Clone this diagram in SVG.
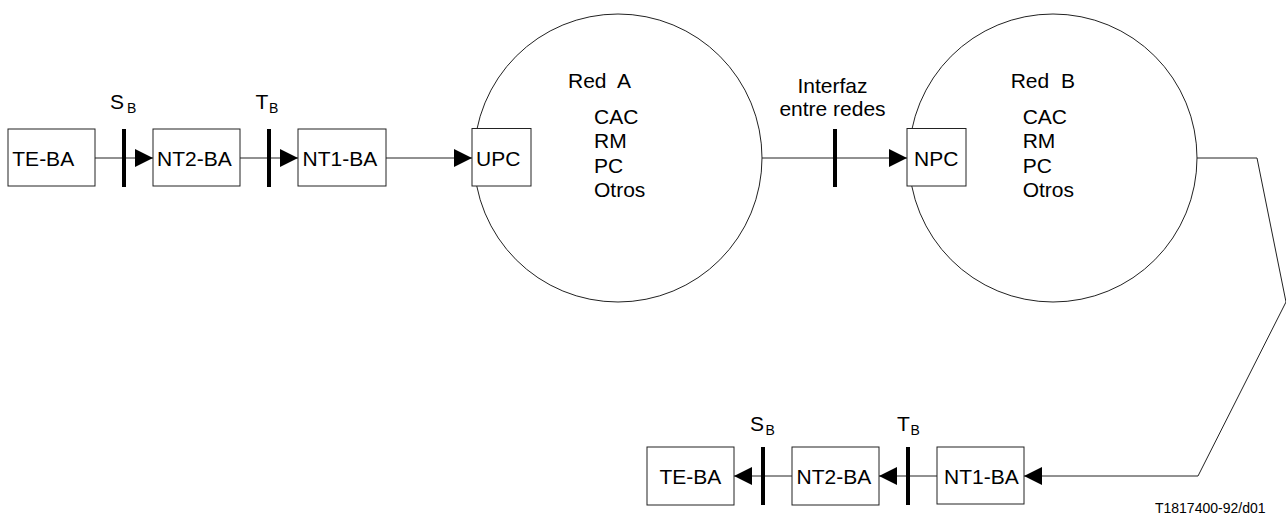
<svg xmlns="http://www.w3.org/2000/svg" width="1286" height="515" viewBox="0 0 1286 515">
<defs>
<style>
text{font-family:"Liberation Sans",Arial,sans-serif;fill:#000}
.lbl{font-size:21px}
.sub{font-size:14px}
.box{fill:#fff;stroke:#222;stroke-width:1}
.net{fill:#fff;stroke:#222;stroke-width:1}
.wire{fill:none;stroke:#222;stroke-width:1}
.bar{stroke:#000;stroke-width:4}
.ref{font-size:14px}
</style>
<marker id="ah" viewBox="0 0 18 18" refX="18" refY="9" markerWidth="18" markerHeight="18" markerUnits="userSpaceOnUse" orient="auto">
<path d="M0,0 L18,9 L0,18 Z" fill="#000"/>
</marker>
</defs>
<rect width="1286" height="515" fill="#fff"/>

<g id="redA">
<circle class="net" cx="618" cy="158" r="144"/>
<text class="lbl" x="568" y="88" xml:space="preserve">Red  A</text>
<text class="lbl" x="594" y="124">CAC</text>
<text class="lbl" x="594" y="148.3">RM</text>
<text class="lbl" x="594" y="172.6">PC</text>
<text class="lbl" x="594" y="196.9">Otros</text>
</g>
<g id="redB">
<circle class="net" cx="1053" cy="158" r="144"/>
<text class="lbl" x="1010.7" y="88" xml:space="preserve">Red  B</text>
<text class="lbl" x="1022.7" y="124">CAC</text>
<text class="lbl" x="1022.7" y="148.3">RM</text>
<text class="lbl" x="1022.7" y="172.6">PC</text>
<text class="lbl" x="1022.7" y="196.9">Otros</text>
</g>

<g id="connectors">
<line class="wire" x1="95" y1="158" x2="153" y2="158" marker-end="url(#ah)"/>
<line class="wire" x1="240" y1="158" x2="298" y2="158" marker-end="url(#ah)"/>
<line class="wire" x1="386" y1="158" x2="472" y2="158" marker-end="url(#ah)"/>
<line class="wire" x1="762" y1="158" x2="907" y2="158" marker-end="url(#ah)"/>
<polyline class="wire" points="1197,158 1257,158 1286,302 1198,476 1024,476" marker-end="url(#ah)"/>
<line class="wire" x1="937" y1="476" x2="879" y2="476" marker-end="url(#ah)"/>
<line class="wire" x1="792" y1="476" x2="734" y2="476" marker-end="url(#ah)"/>
<line class="bar" x1="124" y1="129" x2="124" y2="187"/>
<line class="bar" x1="269" y1="129" x2="269" y2="187"/>
<line class="bar" x1="835" y1="129" x2="835" y2="187"/>
<line class="bar" x1="908" y1="447" x2="908" y2="505"/>
<line class="bar" x1="763" y1="447" x2="763" y2="505"/>
</g>

<g id="teba1">
<rect class="box" x="8" y="129" width="87" height="57"/>
<text class="lbl" x="12.3" y="166">TE-BA</text>
</g>
<g id="nt2ba1">
<rect class="box" x="153" y="129" width="87" height="57"/>
<text class="lbl" x="157" y="166">NT2-BA</text>
</g>
<g id="nt1ba1">
<rect class="box" x="298" y="129" width="88" height="57"/>
<text class="lbl" x="302.5" y="166">NT1-BA</text>
</g>
<g id="upc">
<rect class="box" x="472" y="128.5" width="59" height="57.5"/>
<text class="lbl" x="476" y="166">UPC</text>
</g>
<g id="npc">
<rect class="box" x="907" y="128.5" width="59" height="57.5"/>
<text class="lbl" x="914" y="166">NPC</text>
</g>
<g id="nt1ba2">
<rect class="box" x="937" y="447" width="87" height="57"/>
<text class="lbl" x="944" y="484">NT1-BA</text>
</g>
<g id="nt2ba2">
<rect class="box" x="792" y="447" width="87" height="58"/>
<text class="lbl" x="796.5" y="484">NT2-BA</text>
</g>
<g id="teba2">
<rect class="box" x="647" y="447" width="87" height="58"/>
<text class="lbl" x="659.5" y="484">TE-BA</text>
</g>

<g id="labels">
<text class="lbl" x="110" y="109">S</text><text class="sub" x="127" y="113">B</text>
<text class="lbl" x="255.5" y="109">T</text><text class="sub" x="269" y="113">B</text>
<text class="lbl" x="750" y="430.7">S</text><text class="sub" x="765.5" y="434.7">B</text>
<text class="lbl" x="897" y="430.7">T</text><text class="sub" x="910.5" y="434.7">B</text>
<text class="lbl" x="832.5" y="92.7" text-anchor="middle">Interfaz</text>
<text class="lbl" x="832.5" y="116" text-anchor="middle">entre redes</text>
<text class="ref" x="1265.5" y="513" text-anchor="end">T1817400-92/d01</text>
</g>
</svg>
